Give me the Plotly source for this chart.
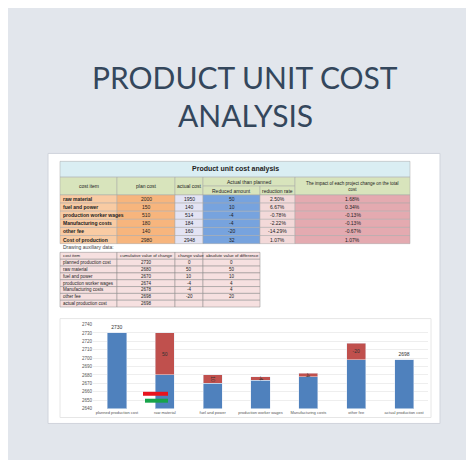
import plotly.graph_objs as go

W, H = 474, 460

# main table
cost_items = ["raw material", "fuel and power", "production worker wages",
              "Manufacturing costs", "other fee", "Cost of production"]
plan_cost = [2000, 150, 510, 180, 140, 2980]
actual_cost = [1950, 140, 514, 184, 160, 2948]
reduced_amount = [50, 10, -4, -4, -20, 32]
reduction_rate = ["2.50%", "6.67%", "-0.78%", "-2.22%", "-14.29%", "1.07%"]
impact = ["1.68%", "0.34%", "-0.13%", "-0.13%", "-0.67%", "1.07%"]

# auxiliary data
aux_items = ["planned production cost", "raw material", "fuel and power",
             "production worker wages", "Manufacturing costs", "other fee",
             "actual production cost"]
cumulative = [2730, 2680, 2670, 2674, 2678, 2698, 2698]
change_value = [0, 50, 10, -4, -4, -20, None]
abs_diff = [0, 50, 10, 4, 4, 20, None]

chart_labels = ["planned production cost", "raw material", "fuel and power",
                "production worker wages", "Manufacturing costs", "other fee",
                "actual production cost"]


def px(x):
    return x / W


def py_(y):
    return 1 - y / H


shapes = []
annotations = []


def cell(x0, x1, y0, y1, fill, text="", align="center", bold=False, size=5, line="#a8a8a8"):
    shapes.append(dict(type="rect", xref="paper", yref="paper", x0=px(x0), x1=px(x1),
                       y0=py_(y1), y1=py_(y0), fillcolor=fill, line=dict(color=line, width=0.5)))
    if text != "":
        t = "<b>%s</b>" % text if bold else str(text)
        xa = {"left": px(x0 + 1), "center": px((x0 + x1) / 2)}[align]
        annotations.append(dict(text=t, x=xa, y=py_((y0 + y1) / 2), xref="paper", yref="paper",
                                xanchor=align, yanchor="middle", showarrow=False,
                                font=dict(size=size, color="#222")))


# white page
shapes.append(dict(type="rect", xref="paper", yref="paper", x0=px(40), x1=px(432),
                   y0=py_(418), y1=py_(145), fillcolor="white",
                   line=dict(color="#d0d4dc", width=1), layer="below"))

cols = [52, 109, 167, 195, 252, 287, 402]
cell(52, 402, 153, 169, "#daeef3", "Product unit cost analysis", bold=True, size=7)
hdr = "#d8e4bc"
cell(52, 109, 169, 187, hdr, "cost item")
cell(109, 167, 169, 187, hdr, "plan cost")
cell(167, 195, 169, 187, hdr, "actual cost")
cell(195, 287, 169, 178, hdr, "Actual than planned")
cell(195, 252, 178, 187, hdr, "Reduced amount")
cell(252, 287, 178, 187, hdr, "reduction rate")
cell(287, 402, 169, 187, hdr, "The impact of each project change on the total<br>cost", size=4.5)

fills = ["#f9cba3", "#f7b57d", "#e3e3f3", "#77a3de", "#f3d9d9", "#e4aab0"]
for i in range(len(cost_items)):
    y0 = 187 + i * 8.2
    row = [cost_items[i], plan_cost[i], actual_cost[i], reduced_amount[i],
           reduction_rate[i], impact[i]]
    for j, v in enumerate(row):
        cell(cols[j], cols[j + 1], y0, y0 + 8.2, fills[j], v,
             align="left" if j == 0 else "center", bold=(j == 0))

annotations.append(dict(text="Drawing auxiliary data:", x=px(53), y=py_(240), xref="paper",
                        yref="paper", xanchor="left", showarrow=False,
                        font=dict(size=5, color="#444")))
aux_fill = "#f6e0e0"
aux_hdr = ["cost item", "cumulative value of change", "change value", "absolute value of difference"]
for j, v in enumerate(aux_hdr):
    cell(cols[j], cols[j + 1], 245, 252, aux_fill, v, align="left", size=4.3, line="#888")
for i in range(len(aux_items)):
    y0 = 252 + i * 6.9
    row = [aux_items[i], cumulative[i],
           "" if change_value[i] is None else change_value[i],
           "" if abs_diff[i] is None else abs_diff[i]]
    for j, v in enumerate(row):
        cell(cols[j], cols[j + 1], y0, y0 + 6.9, aux_fill, v,
             align="left" if j == 0 else "center", size=4.5, line="#888")

# chart frame and stray markers
shapes += [
    dict(type="rect", xref="paper", yref="paper", x0=px(52), x1=px(423), y0=py_(412), y1=py_(312),
         fillcolor="rgba(0,0,0,0)", line=dict(color="#e6e6e6", width=1)),
    dict(type="rect", xref="paper", yref="paper", x0=px(135), x1=px(160), y0=py_(390), y1=py_(386),
         fillcolor="#e8141e", line=dict(width=0)),
    dict(type="rect", xref="paper", yref="paper", x0=px(137), x1=px(160), y0=py_(397), y1=py_(393),
         fillcolor="#17a34a", line=dict(width=0)),
]

annotations += [
    dict(text="PRODUCT UNIT COST", x=0.5, y=py_(68), xref="paper", yref="paper", showarrow=False,
         yanchor="middle", font=dict(family="Lato", size=30, color="#34475c")),
    dict(text="ANALYSIS", x=0.5, y=py_(106), xref="paper", yref="paper", showarrow=False,
         yanchor="middle", font=dict(family="Lato", size=30, color="#34475c")),
]

fig = go.Figure()
red_text = ["", "50", "10", "-4", "-4", "-20", ""]
fig.add_trace(go.Bar(x=chart_labels, y=cumulative, marker_color="#4f81bd",
                     text=["2730", "", "", "", "", "", "2698"], textposition="outside",
                     textfont=dict(size=5, color="#333"), cliponaxis=False))
fig.add_trace(go.Bar(x=chart_labels, y=[v or 0 for v in abs_diff], marker_color="#c0504d",
                     text=red_text, textposition="inside", insidetextanchor="middle",
                     textfont=dict(size=5, color="#333")))

fig.update_layout(
    width=W, height=H, margin=dict(l=0, r=0, t=0, b=0),
    paper_bgcolor="#e2e6ec", plot_bgcolor="white",
    barmode="stack", bargap=0.6, showlegend=False, uniformtext=dict(minsize=4, mode="show"),
    font=dict(family="Liberation Sans"),
    xaxis=dict(domain=[px(85), px(420)], tickfont=dict(size=4, color="#555"), tickangle=0,
               showline=False, anchor="y"),
    yaxis=dict(domain=[py_(403), py_(318)], range=[2640, 2740], dtick=10,
               tickfont=dict(size=4.5, color="#555"), gridcolor="#eeeeee", zeroline=False),
    shapes=shapes, annotations=annotations,
)

fig.write_html("out.html")
